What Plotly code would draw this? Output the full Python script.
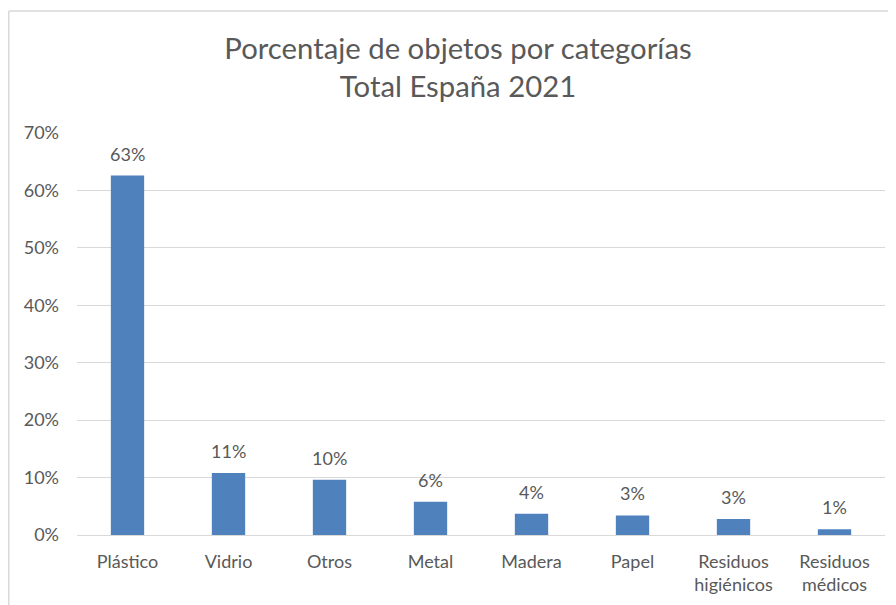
import plotly.graph_objects as go

categories = ["Plástico", "Vidrio", "Otros", "Metal", "Madera", "Papel",
              "Residuos<br>higiénicos", "Residuos<br>médicos"]
values = [0.626, 0.108, 0.096, 0.058, 0.037, 0.034, 0.028, 0.010]
labels = ["63%", "11%", "10%", "6%", "4%", "3%", "3%", "1%"]
tick_vals = [0, 0.1, 0.2, 0.3, 0.4, 0.5, 0.6, 0.7]
tick_text = ["0%", "10%", "20%", "30%", "40%", "50%", "60%", "70%"]
title_text = "Porcentaje de objetos por categorías<br>Total España 2021"

FONT = "Lato, 'Open Sans', sans-serif"
GREY = "#595959"

# page body has an 8px margin; figure sized so it ends at window edge
W, H = 888, 597
L, R, T, B = 69, 11, 125, 70
pw, ph = W - L - R, H - T - B

fig = go.Figure(go.Bar(
    x=categories, y=values,
    marker=dict(color="#4F81BD", line=dict(width=0)),
    width=0.33,
    hoverinfo="x+y",
))

for c, v, t in zip(categories, values, labels):
    fig.add_annotation(x=c, y=v, text=t, showarrow=False,
                       yanchor="bottom", yshift=9,
                       font=dict(size=18, color=GREY, family=FONT))

fig.update_layout(
    width=W, height=H,
    margin=dict(l=L, r=R, t=T, b=B),
    paper_bgcolor="white", plot_bgcolor="white",
    font=dict(family=FONT, color=GREY, size=18),
    title=dict(text=title_text, x=(450 - L) / pw, xanchor="center",
               xref="paper", y=1 - 51 / H, yanchor="middle",
               font=dict(size=29.3, color=GREY, family=FONT)),
    showlegend=False,
    xaxis=dict(showgrid=False, showline=False, ticks="",
               ticklabelstandoff=14,
               tickfont=dict(size=18, color=GREY)),
    yaxis=dict(range=[0, 0.7], tickvals=tick_vals, ticktext=tick_text,
               showgrid=True, gridcolor="#D9D9D9", gridwidth=1.3,
               zeroline=True, zerolinecolor="#D9D9D9", zerolinewidth=1.3,
               showline=False, ticks="", ticklabelstandoff=17,
               tickfont=dict(size=18, color=GREY)),
    shapes=[
        dict(type="line", xref="paper", yref="paper",
             x0=(0.75 - L) / pw, x1=(W + 5 - L) / pw,
             y0=1 + (T - 3) / ph, y1=1 + (T - 3) / ph,
             line=dict(color="#D9D9D9", width=1.5)),
        dict(type="line", xref="paper", yref="paper",
             x0=(0.75 - L) / pw, x1=(0.75 - L) / pw,
             y0=1 + (T - 3) / ph, y1=-(B + 5) / ph,
             line=dict(color="#D9D9D9", width=1.5)),
    ],
)

fig.write_html("out.html")
